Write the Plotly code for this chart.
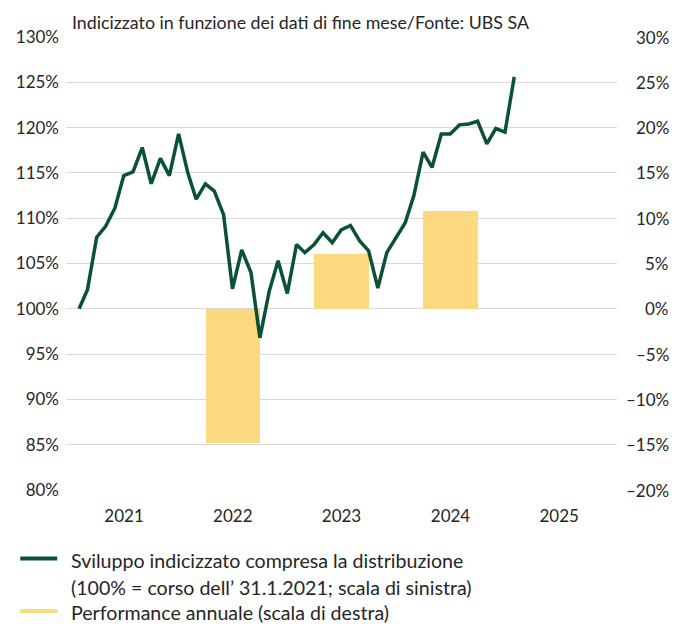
import pandas as pd
import plotly.graph_objects as go

# Monthly indexed development (end of month), Jan 2021 - Jan 2025, in %
index_values = [
    100.0, 102.1, 107.9, 109.1, 111.1, 114.7, 115.1, 117.8, 113.8, 116.6, 114.7, 119.3,
    115.0, 112.1, 113.8, 113.0, 110.4, 102.2, 106.5, 104.0, 96.8, 101.9, 105.3, 101.7,
    107.1, 106.2, 107.1, 108.4, 107.3, 108.7, 109.2, 107.5, 106.4, 102.3, 106.2, 107.8,
    109.5, 112.5, 117.3, 115.6, 119.3, 119.3, 120.3, 120.4, 120.7, 118.2, 119.9, 119.5,
    125.6,
]
dates = pd.date_range("2021-01-31", periods=len(index_values), freq=pd.offsets.MonthEnd())

# Annual performance (right scale), in %
perf_years = ["2022-07-01", "2023-07-01", "2024-07-01"]
perf_values = [-14.8, 6.0, 10.8]

year_ticks = ["2021-07-01", "2022-07-01", "2023-07-01", "2024-07-01", "2025-07-01"]
year_labels = ["2021", "2022", "2023", "2024", "2025"]

left_vals = [80, 85, 90, 95, 100, 105, 110, 115, 120, 125, 130]
left_text = [f"{v}%" for v in left_vals]
right_vals = [-20, -15, -10, -5, 0, 5, 10, 15, 20, 25, 30]
right_text = [(f"–{abs(v)}%" if v < 0 else f"{v}%") for v in right_vals]

GREEN = "#0b5137"
YELLOW = "#fcd97e"
FONT = "Lato"
TXT = "#262626"

fig = go.Figure()

fig.add_trace(go.Bar(
    x=pd.to_datetime(perf_years), y=perf_values, yaxis="y",
    width=182.5 * 86400000, marker=dict(color=YELLOW, line=dict(width=0)),
    name="Performance annuale (scala di destra)", showlegend=False,
))
fig.add_trace(go.Scatter(
    x=dates, y=index_values, yaxis="y2", mode="lines",
    line=dict(color=GREEN, width=3.5, shape="linear"),
    name="Sviluppo indicizzato compresa la distribuzione<br>(100% = corso dell’ 31.1.2021; scala di sinistra)",
    showlegend=False,
))

# Right axis labels (right-aligned, placed on the right scale)
for v, t in zip(right_vals, right_text):
    fig.add_annotation(x=1, xref="paper", xshift=54, xanchor="right", y=v, yref="y",
                       text=t, showarrow=False, font=dict(family=FONT, size=17, color=TXT))

fig.add_annotation(x=0, xref="paper", xshift=4, xanchor="left", y=1.034, yref="paper",
                   yanchor="middle", showarrow=False,
                   text="Indicizzato in funzione dei dati di fine mese/Fonte: UBS SA",
                   font=dict(family=FONT, size=17.8, color=TXT))

# Legend (drawn manually)
fig.add_shape(type="line", xref="paper", yref="paper", x0=-0.083, x1=-0.016,
              y0=-0.151, y1=-0.151, line=dict(color=GREEN, width=4))
fig.add_shape(type="line", xref="paper", yref="paper", x0=-0.083, x1=-0.016,
              y0=-0.267, y1=-0.267, line=dict(color=YELLOW, width=4))
legend_lines = [
    ("Sviluppo indicizzato compresa la distribuzione", -0.151),
    ("(100% = corso dell’ 31.1.2021; scala di sinistra)", -0.211),
    ("Performance annuale (scala di destra)", -0.267),
]
for txt, yy in legend_lines:
    fig.add_annotation(x=0.005, xref="paper", xanchor="left", y=yy, yref="paper",
                       yanchor="middle", yshift=-2, showarrow=False, align="left",
                       text=txt, font=dict(family=FONT, size=19.6, color=TXT))

fig.update_layout(
    width=674, height=624,
    margin=dict(l=66, r=57, t=37.3, b=133.5, pad=0),
    paper_bgcolor="white", plot_bgcolor="white",
    font=dict(family=FONT, size=17, color=TXT),
    showlegend=False,
    xaxis=dict(type="date", range=["2020-12-18", "2026-01-11"],
               tickvals=pd.to_datetime(year_ticks), ticktext=year_labels,
               showgrid=False, zeroline=False, showline=False, ticks="",
               tickfont=dict(size=17), ticklabelstandoff=14),
    yaxis=dict(side="right", range=[-20, 30], tickvals=right_vals,
               showticklabels=False, showgrid=True, gridcolor="#d9d9d9", gridwidth=1.3,
               zeroline=False, showline=False, ticks=""),
    yaxis2=dict(side="left", overlaying="y", range=[80, 130], tickvals=left_vals,
                ticktext=left_text, showgrid=False, zeroline=False, showline=False,
                ticks="", tickfont=dict(size=17), ticklabelstandoff=6),
    bargap=0,
)

fig.write_html("out.html")
